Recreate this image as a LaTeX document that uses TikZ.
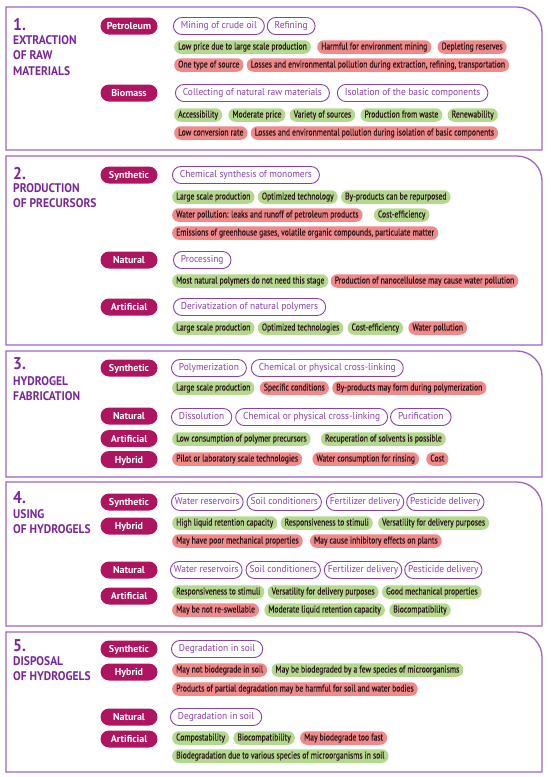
\documentclass[tikz,border=0pt]{standalone}
\usepackage{fontspec}
\setmainfont{PT Sans}
\newfontfamily\narrowfont[FakeStretch=0.78, FakeBold=0.4]{PT Sans}
\newfontfamily\stagefont[FakeStretch=0.94]{PT Sans}
\newfontfamily\headfont[FakeStretch=0.92]{PT Sans}
\usepackage{tikz}
\usetikzlibrary{positioning}
\definecolor{panelpurple}{RGB}{155,100,195}
\definecolor{headpurple}{RGB}{122,38,155}
\definecolor{stagepurple}{RGB}{135,65,175}
\definecolor{tagred}{RGB}{175,20,95}
\definecolor{progreen}{RGB}{181,216,143}
\definecolor{conred}{RGB}{240,138,138}
\definecolor{pilltext}{RGB}{40,20,25}

\begin{document}
\begin{tikzpicture}[
    x=1pt, y=-1pt,
    node distance=3pt,
    panel/.style={draw=panelpurple, line width=1.3pt},
    num/.style={anchor=base west, inner sep=0pt, text=headpurple, font=\headfont\bfseries\fontsize{17}{18}\selectfont},
    title/.style={anchor=north west, inner sep=0pt, align=left, text=headpurple, font=\headfont\bfseries\fontsize{12.5}{15.3}\selectfont},
    tag/.style={fill=tagred, text=white, rounded corners=8.5pt, minimum width=57pt, minimum height=17pt, inner sep=0pt, text height=7pt, text depth=0pt, font=\bfseries\fontsize{10}{10}\selectfont},
    stage/.style={draw=stagepurple, line width=0.9pt, text=stagepurple, rounded corners=8.5pt, minimum height=17pt, inner xsep=7.5pt, inner ysep=0pt, text height=7.2pt, text depth=2pt, font=\stagefont\fontsize{10}{11}\selectfont},
    use/.style={stage, inner xsep=3.5pt},
    pill/.style={rounded corners=6.5pt, minimum height=13.5pt, inner xsep=4pt, inner ysep=0pt, text height=6.8pt, text depth=1.8pt, text=pilltext, font=\narrowfont\fontsize{9.8}{10}\selectfont},
    pro/.style={pill, fill=progreen},
    con/.style={pill, fill=conred}
]
\useasboundingbox (0,0) rectangle (550,777);

% panels, rounded only at the top right
\foreach \ya/\yb in {7/150, 156/345, 351/477, 482/626, 632/772}
  \draw[panel] (6,\yb) -- (6,\ya) -- (517,\ya) .. controls (530.8,\ya) and (542,{\ya+11.2}) .. (542,{\ya+25}) -- (542,\yb) -- cycle;

% 1. extraction
\node[num] (n1) at (13,30) {1.};
\node[title] (t1) at (13,35.5) {EXTRACTION\\OF RAW\\MATERIALS};

\node[tag] (petro) at (129,26) {Petroleum};
\node[stage, anchor=west] (mining) at (173,26) {Mining of crude oil};
\node[stage, right=2pt of mining] (refining) {Refining};
\node[pro, anchor=west] (lowprice) at (174,47) {Low price due to large scale production};
\node[con, right=6pt of lowprice] (harmful) {Harmful for environment mining};
\node[con, right=6pt of harmful] (depleting) {Depleting reserves};
\node[con, anchor=west] (onesource) at (174,65) {One type of source};
\node[con, right=3pt of onesource] (lossesa) {Losses and environmental pollution during extraction, refining, transportation};

\node[tag] (biomass) at (129,93) {Biomass};
\node[stage, anchor=west] (collect) at (175,93) {Collecting of natural raw materials};
\node[stage, right=7pt of collect] (isolate) {Isolation of the basic components};
\node[pro, anchor=west] (access) at (174,115) {Accessibility};
\node[pro, right=6pt of access] (modprice) {Moderate price};
\node[pro, right=4pt of modprice] (variety) {Variety of sources};
\node[pro, right=5pt of variety] (waste) {Production from waste};
\node[pro, right=5pt of waste] (renew) {Renewability};
\node[con, anchor=west] (lowconv) at (174,133) {Low conversion rate};
\node[con, right=3pt of lowconv] (lossesb) {Losses and environmental pollution during isolation of basic components};

% 2. precursors
\node[num] (n2) at (13,179) {2.};
\node[title] (t2) at (13,183.5) {PRODUCTION\\OF PRECURSORS};

\node[tag] (synth2) at (129,175) {Synthetic};
\node[stage, anchor=west] (chemsynth) at (172,175) {Chemical synthesis of monomers};
\node[pro, anchor=west] (large2) at (172,197) {Large scale production};
\node[pro, right=of large2] (optim2) {Optimized technology};
\node[pro, right=of optim2] (byprod2) {By-products can be repurposed};
\node[con, anchor=west] (waterpol) at (172,215) {Water pollution: leaks and runoff of petroleum products};
\node[pro, right=11pt of waterpol] (cost2) {Cost-efficiency};
\node[con, anchor=west] (emission) at (172,233) {Emissions of greenhouse gases, volatile organic compounds, particulate matter};

\node[tag] (nat2) at (129,260) {Natural};
\node[stage, anchor=west] (process) at (173,260) {Processing};
\node[pro, anchor=west] (noneed) at (172,281) {Most natural polymers do not need this stage};
\node[con, right=2pt of noneed] (nanocell) {Production of nanocellulose may cause water pollution};

\node[tag] (art2) at (129,307) {Artificial};
\node[stage, anchor=west] (deriv) at (173,307) {Derivatization of natural polymers};
\node[pro, anchor=west] (large2b) at (172,328) {Large scale production};
\node[pro, right=of large2b] (optim2b) {Optimized technologies};
\node[pro, right=4pt of optim2b] (cost2b) {Cost-efficiency};
\node[con, right=5pt of cost2b] (waterpol2b) {Water pollution};

% 3. fabrication
\node[num] (n3) at (13,369) {3.};
\node[title] (t3) at (13,376) {HYDROGEL\\FABRICATION};

\node[tag] (synth3) at (129,368) {Synthetic};
\node[stage, anchor=west] (polym) at (171,368) {Polymerization};
\node[stage, right=4pt of polym] (cross3) {Chemical or physical cross-linking};
\node[pro, anchor=west] (large3) at (172,388) {Large scale production};
\node[con, right=5pt of large3] (specific) {Specific conditions};
\node[con, right=of specific] (byprod3) {By-products may form during polymerization};

\node[tag] (nat3) at (129,416) {Natural};
\node[tag] (art3) at (129,438.5) {Artificial};
\node[tag] (hyb3) at (129,459.5) {Hybrid};
\node[stage, anchor=west] (dissol) at (171,417) {Dissolution};
\node[stage, right=of dissol] (cross3b) {Chemical or physical cross-linking};
\node[stage, right=2pt of cross3b] (purif) {Purification};
\node[pro, anchor=west] (lowcons) at (172,439) {Low consumption of polymer precursors};
\node[pro, right=10pt of lowcons] (recup) {Recuperation of solvents is possible};
\node[con, anchor=west] (pilot) at (172,459) {Pilot or laboratory scale technologies};
\node[con, right=10pt of pilot] (rinsing) {Water consumption for rinsing};
\node[con, right=7pt of rinsing] (cost3) {Cost};

% 4. using
\node[num] (n4) at (13,503) {4.};
\node[title] (t4) at (13,509) {USING\\OF HYDROGELS};

\node[tag] (synth4) at (129,502) {Synthetic};
\node[tag] (hyb4) at (129,526) {Hybrid};
\node[use, anchor=west] (reserv4) at (171,502) {Water reservoirs};
\node[use, right=of reserv4] (soil4) {Soil conditioners};
\node[use, right=4pt of soil4] (fert4) {Fertilizer delivery};
\node[use, right=2pt of fert4] (pest4) {Pesticide delivery};
\node[pro, anchor=west] (highret) at (172,523) {High liquid retention capacity};
\node[pro, right=of highret] (resp4) {Responsiveness to stimuli};
\node[pro, right=5pt of resp4] (versat4) {Versatility for delivery purposes};
\node[con, anchor=west] (poormech) at (172,541) {May have poor mechanical properties};
\node[con, right=7pt of poormech] (inhib) {May cause inhibitory effects on plants};

\node[tag] (nat4) at (129,570) {Natural};
\node[tag] (art4) at (129,596) {Artificial};
\node[use, anchor=west] (reserv4b) at (170,570) {Water reservoirs};
\node[use, right=of reserv4b] (soil4b) {Soil conditioners};
\node[use, right=of soil4b] (fert4b) {Fertilizer delivery};
\node[use, right=2pt of fert4b] (pest4b) {Pesticide delivery};
\node[pro, anchor=west] (resp4b) at (172,592) {Responsiveness to stimuli};
\node[pro, right=of resp4b] (versat4b) {Versatility for delivery purposes};
\node[pro, right=of versat4b] (goodmech) {Good mechanical properties};
\node[con, anchor=west] (notreswell) at (172,610) {May be not re-swellable};
\node[pro, right=5pt of notreswell] (modret) {Moderate liquid retention capacity};
\node[pro, right=4pt of modret] (biocomp4) {Biocompatibility};

% 5. disposal
\node[num] (n5) at (13,651) {5.};
\node[title] (t5) at (13,656) {DISPOSAL\\OF HYDROGELS};

\node[tag] (synth5) at (129,649) {Synthetic};
\node[tag] (hyb5) at (129,672) {Hybrid};
\node[stage, anchor=west] (degr5) at (171,649) {Degradation in soil};
\node[con, anchor=west] (notbio) at (172,670) {May not biodegrade in soil};
\node[pro, right=4pt of notbio] (fewspec) {May be biodegraded by a few species of microorganisms};
\node[con, anchor=west] (partial) at (172,689) {Products of partial degradation may be harmful for soil and water bodies};

\node[tag] (nat5) at (129,717) {Natural};
\node[tag] (art5) at (129,739) {Artificial};
\node[stage, anchor=west] (degr5b) at (170,717) {Degradation in soil};
\node[pro, anchor=west] (compost) at (172,738) {Compostability};
\node[pro, right=4pt of compost] (biocomp5) {Biocompatibility};
\node[con, right=5pt of biocomp5] (toofast) {May biodegrade too fast};
\node[pro, anchor=west] (variousspec) at (172,756) {Biodegradation due to various species of microorganisms in soil};
\end{tikzpicture}
\end{document}
